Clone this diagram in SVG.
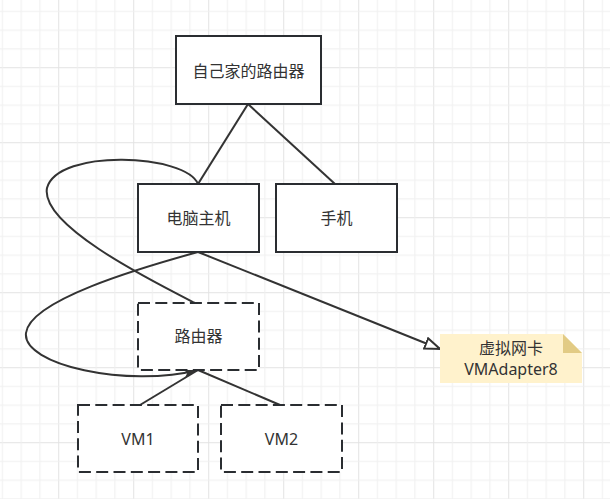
<svg xmlns="http://www.w3.org/2000/svg" width="610" height="499" viewBox="0 0 610 499">
<style>
.node{fill:#ffffff;stroke:#2a2d31;stroke-width:2}
.dash{stroke-dasharray:12 5.3}
.lbl{font-family:"Noto Sans","Noto Sans CJK SC",sans-serif;font-size:16px;fill:#333333;text-anchor:middle;dominant-baseline:central}
.edge{fill:none;stroke:#333333;stroke-width:2}
</style>
<defs>
<pattern id="grid" patternUnits="userSpaceOnUse" x="58.2" y="67.2" width="75" height="75">
<rect x="0" y="0" width="1" height="75" fill="#e3e3e3"/>
<rect x="0" y="0" width="75" height="1" fill="#e3e3e3"/>
<rect x="18.75" y="0" width="1" height="75" fill="#f0f0f0"/>
<rect x="37.5" y="0" width="1" height="75" fill="#f0f0f0"/>
<rect x="56.25" y="0" width="1" height="75" fill="#f0f0f0"/>
<rect x="0" y="18.75" width="75" height="1" fill="#f0f0f0"/>
<rect x="0" y="37.5" width="75" height="1" fill="#f0f0f0"/>
<rect x="0" y="56.25" width="75" height="1" fill="#f0f0f0"/>
</pattern>
<marker id="openBlock" markerUnits="userSpaceOnUse" markerWidth="18" markerHeight="14" refX="16" refY="7" orient="auto">
<path d="M1,1.5 L16,7 L1,12.5 Z" fill="#ffffff" stroke="#333333" stroke-width="2"/>
</marker>
<marker id="classic" markerUnits="userSpaceOnUse" markerWidth="16" markerHeight="12" refX="15" refY="6" orient="auto">
<path d="M0,1 L15,6 L0,11 L4,6 Z" fill="#333333"/>
</marker>
</defs>
<rect x="0" y="0" width="610" height="499" fill="#ffffff"/>
<rect x="0" y="0" width="610" height="499" fill="url(#grid)"/>

<g id="connectors">
<path class="edge" d="M248,104 L198,184"/>
<path class="edge" d="M248,104 L335,184"/>
<path class="edge" d="M198,184 C186,154 58,148 47,188 C40,225 150,280 195,303"/>
<path class="edge" d="M198,252 C140,268 30,300 26,333 C22,365 128,388 198,370" marker-end="url(#classic)"/>
<path class="edge" d="M140,405 L198,370"/>
<path class="edge" d="M280,405 L198,370"/>
<path class="edge" d="M198,252 L440,349" marker-end="url(#openBlock)"/>
</g>

<g id="node-home-router">
<rect class="node" x="176" y="36" width="145" height="68"/>
<text class="lbl" x="248.5" y="71">自己家的路由器</text>
</g>
<g id="node-pc">
<rect class="node" x="138" y="184" width="121" height="68"/>
<text class="lbl" x="198.5" y="218">电脑主机</text>
</g>
<g id="node-phone">
<rect class="node" x="276" y="184" width="121" height="68"/>
<text class="lbl" x="336.5" y="218">手机</text>
</g>
<g id="node-router">
<rect class="node dash" x="138" y="303" width="121" height="67"/>
<text class="lbl" x="198.5" y="336">路由器</text>
</g>
<g id="node-vm1">
<rect class="node dash" x="78" y="405" width="120" height="67"/>
<text class="lbl" x="138" y="438.5">VM1</text>
</g>
<g id="node-vm2">
<rect class="node dash" x="221" y="405" width="121" height="67"/>
<text class="lbl" x="281.5" y="438.5">VM2</text>
</g>
<g id="node-note">
<path d="M440,334 L563,334 L582,353 L582,383 L440,383 Z" fill="#fff2cc"/>
<path d="M563,334 L563,353 L582,353 Z" fill="#e2cb85"/>
<text class="lbl" x="511" y="347.5">虚拟网卡</text>
<text class="lbl" x="511" y="369">VMAdapter8</text>
</g>
</svg>
